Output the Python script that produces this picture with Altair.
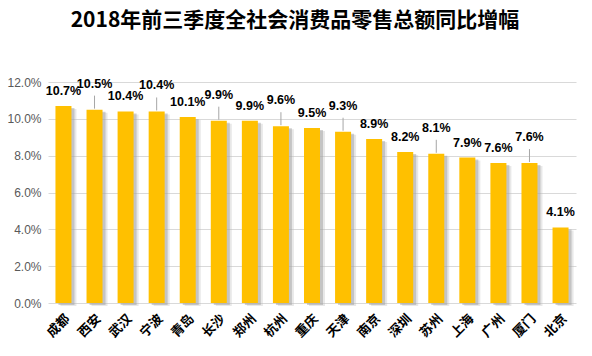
import altair as alt
import pandas as pd

cities = ["成都", "西安", "武汉", "宁波", "青岛", "长沙", "郑州", "杭州", "重庆",
          "天津", "南京", "深圳", "苏州", "上海", "广州", "厦门", "北京"]
growth = [10.7, 10.5, 10.4, 10.4, 10.1, 9.9, 9.9, 9.6, 9.5,
          9.3, 8.9, 8.2, 8.1, 7.9, 7.6, 7.6, 4.1]
leader = [False, True, False, True, False, True, False, True, False,
          True, False, False, True, False, False, True, False]
y_ticks = [0, 2, 4, 6, 8, 10, 12]
title_text = "2018年前三季度全社会消费品零售总额同比增幅"

df = pd.DataFrame({"city": cities, "value": growth, "leader": leader})
df["label"] = [f"{v:.1f}%" for v in growth]

x_enc = alt.X("city:N", sort=None,
              scale=alt.Scale(paddingInner=0.485, paddingOuter=0.24),
              axis=alt.Axis(title=None, labelAngle=-45, labelFontSize=13,
                            labelFontWeight="bold", labelColor="#000000",
                            labelFont="Noto Sans CJK SC", labelPadding=9,
                            labelOverlap=False,
                            domain=False, ticks=False, grid=False))
y_enc = alt.Y("value:Q", scale=alt.Scale(domain=[0, 12], nice=False),
              axis=alt.Axis(title=None, values=y_ticks, labelOverlap=False,
                            tickCount=7,
                            labelExpr="format(datum.value, '.1f') + '%'",
                            labelFontSize=12, labelColor="#595959",
                            labelFont="Liberation Sans", labelPadding=7,
                            domain=False, ticks=False, grid=True,
                            gridColor="#d9d9d9", gridWidth=1))
y2_enc = alt.Y2("value:Q")

base = alt.Chart(df)

shadow = base.mark_bar(color="#9a9a9a", opacity=0.45, xOffset=3, yOffset=2).encode(
    x=x_enc, y=y_enc)
shadow2 = base.mark_bar(color="#bdbdbd", opacity=0.35, xOffset=5, yOffset=3).encode(
    x=x_enc, y=y_enc)
bars = base.mark_bar(color="#FFC000").encode(x=x_enc, y=y_enc)

leaders = base.transform_filter("datum.leader").mark_rule(
    color="#a6a6a6", strokeWidth=1, yOffset=-1, y2Offset=-14).encode(
    x=x_enc, y=y_enc, y2=y2_enc)

txt_common = dict(fontSize=12.5, fontWeight="bold", font="Liberation Sans",
                  color="#000000", baseline="middle", align="center")
labels_a = base.transform_filter("!datum.leader").mark_text(dy=-15, **txt_common).encode(
    x=x_enc, y=y_enc, text="label:N")
labels_b = base.transform_filter("datum.leader").mark_text(dy=-26, **txt_common).encode(
    x=x_enc, y=y_enc, text="label:N")

chart = alt.layer(shadow2, shadow, bars, leaders, labels_a, labels_b).properties(
    width=528, height=221,
    autosize=alt.AutoSizeParams(type="none"),
    padding={"left": 48, "top": 82, "right": 16, "bottom": 53},
    background="#ffffff",
    title=alt.TitleParams(title_text, fontSize=21, font="Noto Sans CJK SC",
                          fontWeight="bold", color="#000000", anchor="middle",
                          dx=-17, offset=45),
).configure_view(stroke=None)

chart.save("out.html", embed_options={"renderer": "svg", "actions": False})
